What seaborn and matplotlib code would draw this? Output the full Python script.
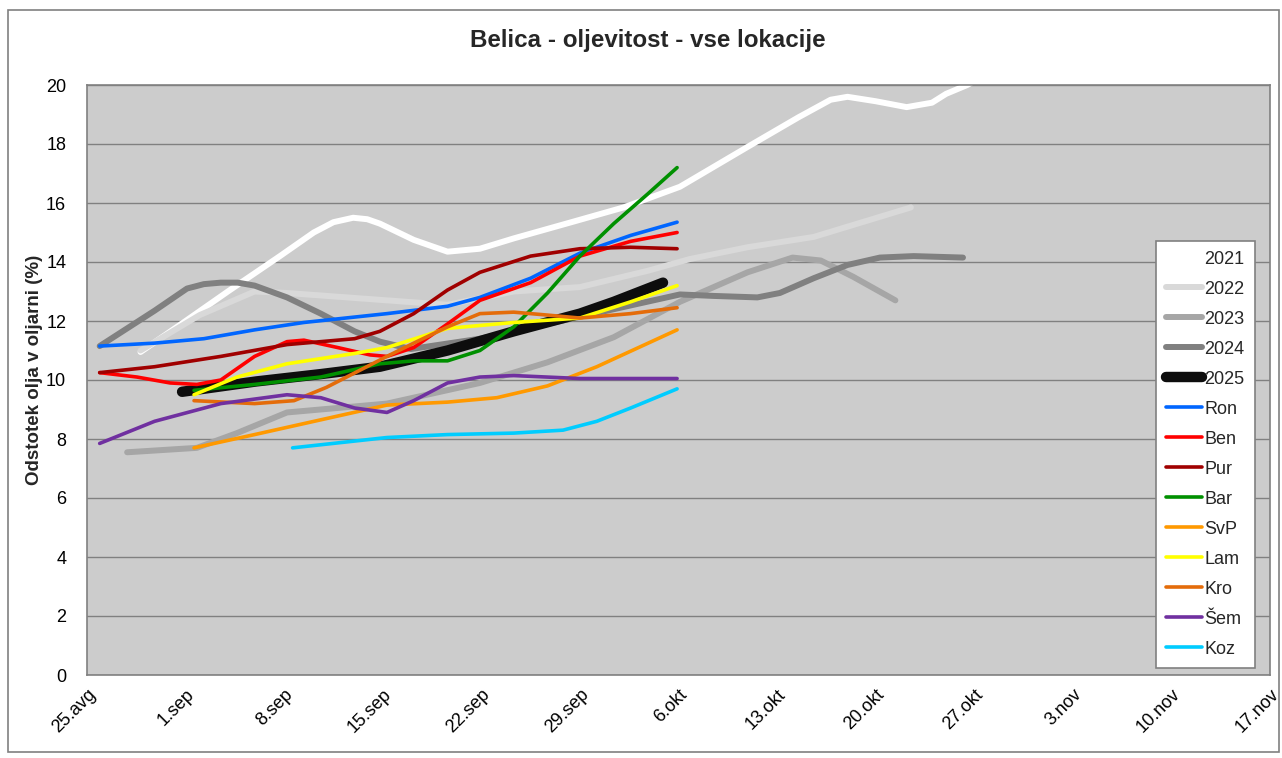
import matplotlib
matplotlib.use("Agg")
import matplotlib.pyplot as plt
import seaborn as sns
import pandas as pd
from matplotlib.patches import Rectangle

# x = days after 25 Aug
d2021 = [3.8, 7, 10, 13.7, 16.1, 17.5, 18.9, 19.9, 20.8, 23.2, 25.6, 27.9, 30.3, 34.4, 38.1, 42.1, 46.9, 50.5, 52.8, 54.0, 56.0, 58.2, 60.0, 61.0, 62.5, 64.0]
v2021 = [10.95, 12.0, 13.0, 14.2, 15.0, 15.35, 15.5, 15.45, 15.3, 14.75, 14.35, 14.45, 14.8, 15.35, 15.85, 16.55, 17.9, 18.9, 19.5, 19.6, 19.45, 19.25, 19.4, 19.7, 20.0, 20.4]

d2022 = [3.8, 8, 11.9, 14.2, 21.3, 25.6, 30.3, 35.0, 39.8, 42.8, 46.9, 51.6, 58.5]
v2022 = [11.0, 12.2, 13.0, 12.95, 12.7, 12.55, 13.0, 13.15, 13.7, 14.1, 14.5, 14.85, 15.85]

d2023 = [2.85, 7.8, 10.65, 14.2, 21.3, 27.9, 32.7, 37.4, 42.1, 44.5, 46.9, 50.1, 52.1, 54.4, 57.4]
v2023 = [7.55, 7.7, 8.2, 8.9, 9.2, 9.9, 10.6, 11.45, 12.65, 13.15, 13.65, 14.15, 14.05, 13.5, 12.7]

d2024 = [0.9, 4.8, 7.1, 8.3, 9.5, 10.7, 11.9, 14.2, 16.6, 19.0, 20.8, 23.0, 27.9, 32.7, 37.4, 42.1, 44.5, 47.6, 49.2, 51.6, 54.0, 56.3, 58.7, 62.2]
v2024 = [11.15, 12.35, 13.1, 13.25, 13.3, 13.3, 13.2, 12.8, 12.25, 11.65, 11.3, 11.05, 11.4, 11.9, 12.4, 12.9, 12.85, 12.8, 12.95, 13.45, 13.9, 14.15, 14.2, 14.15]

d2025 = [6.75, 12.0, 16.6, 20.8, 25.6, 30.3, 35.0, 37.4, 40.9]
v2025 = [9.6, 9.95, 10.2, 10.45, 11.0, 11.65, 12.25, 12.65, 13.3]

d_ron = [0.9, 4.8, 8.3, 11.9, 15.4, 21.3, 25.6, 27.9, 31.5, 35.0, 38.6, 41.9]
v_ron = [11.15, 11.25, 11.4, 11.7, 11.95, 12.25, 12.5, 12.8, 13.45, 14.3, 14.9, 15.35]

d_ben = [0.9, 3.55, 5.9, 7.8, 9.5, 11.9, 14.2, 15.4, 17.8, 20.1, 21.3, 23.2, 25.6, 27.9, 31.5, 35.0, 38.6, 41.9]
v_ben = [10.25, 10.1, 9.9, 9.85, 10.0, 10.8, 11.3, 11.35, 11.1, 10.85, 10.8, 11.1, 11.9, 12.7, 13.3, 14.2, 14.7, 15.0]

d_pur = [0.9, 4.8, 9.5, 14.2, 19.0, 20.8, 23.2, 25.6, 27.9, 31.5, 35.0, 38.6, 41.9]
v_pur = [10.25, 10.45, 10.8, 11.2, 11.4, 11.65, 12.25, 13.05, 13.65, 14.2, 14.45, 14.5, 14.45]

d_bar = [7.6, 11.9, 16.6, 20.8, 23.2, 25.6, 27.9, 30.3, 32.7, 35.0, 37.4, 39.8, 41.9]
v_bar = [9.65, 9.85, 10.1, 10.55, 10.65, 10.65, 11.0, 11.8, 12.95, 14.2, 15.3, 16.3, 17.2]

d_svp = [7.6, 11.9, 16.6, 21.3, 25.6, 29.1, 32.7, 36.2, 41.9]
v_svp = [7.7, 8.15, 8.65, 9.15, 9.25, 9.4, 9.8, 10.45, 11.7]

d_lam = [7.6, 10.65, 14.2, 19.0, 21.3, 25.6, 30.3, 35.0, 38.6, 41.9]
v_lam = [9.5, 10.1, 10.55, 10.9, 11.1, 11.75, 11.95, 12.1, 12.65, 13.2]

d_kro = [7.6, 11.9, 14.7, 17.0, 21.3, 23.2, 25.6, 27.9, 30.3, 32.7, 35.0, 38.6, 41.9]
v_kro = [9.3, 9.2, 9.3, 9.75, 10.8, 11.25, 11.8, 12.25, 12.3, 12.2, 12.1, 12.25, 12.45]

d_sem = [0.9, 4.8, 9.5, 14.2, 16.6, 19.0, 21.3, 23.2, 25.6, 27.9, 30.3, 35.0, 41.9]
v_sem = [7.85, 8.6, 9.2, 9.5, 9.4, 9.05, 8.9, 9.3, 9.9, 10.1, 10.15, 10.05, 10.05]

d_koz = [14.6, 21.3, 25.6, 30.3, 33.8, 36.2, 38.6, 41.9]
v_koz = [7.7, 8.05, 8.15, 8.2, 8.3, 8.6, 9.05, 9.7]

tick_days = [0, 7, 14, 21, 28, 35, 42, 49, 56, 63, 70, 77, 84]
tick_labels = ["25.avg", "1.sep", "8.sep", "15.sep", "22.sep", "29.sep", "6.okt",
               "13.okt", "20.okt", "27.okt", "3.nov", "10.nov", "17.nov"]

# name, days, values, colour, linewidth
series = [
    ("2021", d2021, v2021, "#ffffff", 4.3),
    ("2022", d2022, v2022, "#d9d9d9", 4.3),
    ("2023", d2023, v2023, "#a6a6a6", 4.3),
    ("2024", d2024, v2024, "#808080", 4.3),
    ("2025", d2025, v2025, "#0d0d0d", 7.5),
    ("Ron", d_ron, v_ron, "#0066ff", 2.6),
    ("Ben", d_ben, v_ben, "#ff0000", 2.6),
    ("Pur", d_pur, v_pur, "#a00000", 2.6),
    ("Bar", d_bar, v_bar, "#009000", 2.6),
    ("SvP", d_svp, v_svp, "#ff9900", 2.6),
    ("Lam", d_lam, v_lam, "#ffff00", 2.6),
    ("Kro", d_kro, v_kro, "#e46c0a", 2.6),
    ("Šem", d_sem, v_sem, "#7030a0", 2.6),
    ("Koz", d_koz, v_koz, "#00ccff", 2.6),
]

sns.set_style("white")
plt.rcParams['font.family'] = ['Liberation Sans', 'DejaVu Sans']

fig = plt.figure(figsize=(12.82, 7.58), dpi=100)
ax = fig.add_axes([87 / 1282, 1 - 675 / 758, 1183 / 1282, 590 / 758])
ax.set_facecolor("#cccccc")

for name, d, v, col, lw in series:
    df = pd.DataFrame({"day": d, "val": v})
    sns.lineplot(data=df, x="day", y="val", ax=ax, color=col, linewidth=lw,
                 label=name, sort=False, solid_capstyle="round", solid_joinstyle="round")

ax.set_xlim(0, 84)
ax.set_ylim(0, 20)
ax.set_yticks(range(0, 21, 2))
ax.set_xticks(tick_days)
ax.set_xticklabels(tick_labels, rotation=45, ha="right", rotation_mode="anchor")
ax.tick_params(axis="both", length=0, labelsize=13, colors="black")
ax.tick_params(axis="y", pad=15)
ax.tick_params(axis="x", pad=8)
ax.grid(axis="y", color="#808080", linewidth=1.0)
ax.set_axisbelow(True)
for sp in ax.spines.values():
    sp.set_color("#808080")
    sp.set_linewidth(1.2)
ax.set_xlabel("")
ax.set_ylabel("")

fig.text(648 / 1282, 1 - 40 / 758, "Belica - oljevitost - vse lokacije",
         ha="center", va="center", fontsize=17.4, fontweight="bold")
fig.text(35 / 1282, 1 - 370 / 758, "Odstotek olja v oljarni (%)",
         ha="center", va="center", rotation=90, fontsize=13.5, fontweight="bold")

leg = ax.legend(loc="upper left", bbox_to_anchor=(0.9035, 0.736), fontsize=13,
                frameon=True, fancybox=False, borderpad=0.55, labelspacing=0.72,
                handlelength=2.0, handletextpad=0.15, borderaxespad=0)
leg.get_frame().set_edgecolor("#808080")
leg.get_frame().set_facecolor("white")
leg.get_frame().set_alpha(1)
leg.get_frame().set_linewidth(1.2)

fig.patches.append(Rectangle((8 / 1282, 1 - 752 / 758), 1271 / 1282, 742 / 758,
                             transform=fig.transFigure, fill=False,
                             edgecolor="#808080", linewidth=1.2))

fig.savefig("out.png", dpi=100)
